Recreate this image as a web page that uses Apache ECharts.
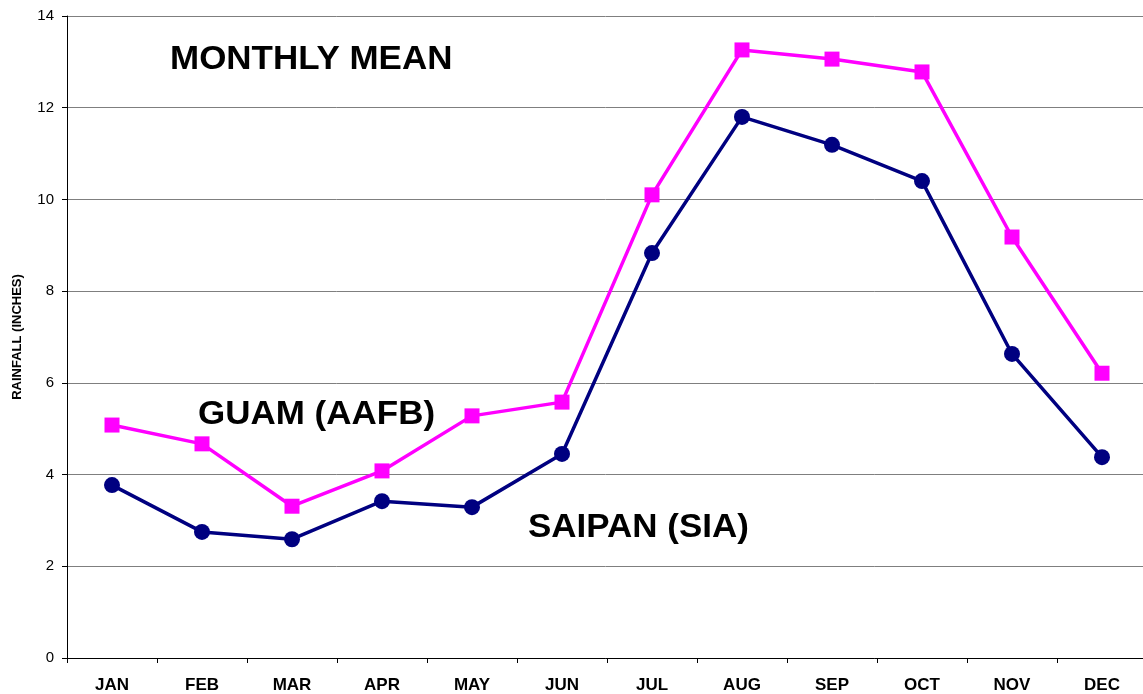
<!DOCTYPE html>
<html lang="en">
<head>
    <meta charset="UTF-8">
    <title>Monthly Mean Rainfall</title>
    <script src="https://cdn.jsdelivr.net/npm/echarts@6.0.0/dist/echarts.min.js"></script>
    <style>
        html, body { margin: 0; padding: 0; background: #fff; }
        #main { width: 1143px; height: 694px; }
    </style>
</head>
<body>
    <div id="main"></div>
    <script>
        var months = ['JAN', 'FEB', 'MAR', 'APR', 'MAY', 'JUN', 'JUL', 'AUG', 'SEP', 'OCT', 'NOV', 'DEC'];
        var guam = [5.08, 4.67, 3.31, 4.08, 5.28, 5.58, 10.10, 13.26, 13.06, 12.78, 9.18, 6.21];
        var saipan = [3.77, 2.75, 2.59, 3.42, 3.29, 4.45, 8.83, 11.80, 11.19, 10.40, 6.63, 4.38];

        var chartDom = document.getElementById('main');
        var myChart = echarts.init(chartDom);
        var font = 'Liberation Sans, Arial, sans-serif';
        var bigFont = 'bold 33px Liberation Sans, Arial, sans-serif';

        var option = {
            backgroundColor: '#fff',
            animation: false,
            grid: { left: 67, top: 16, width: 1080, height: 642, outerBoundsMode: 'none', containLabel: false },
            xAxis: {
                type: 'category',
                data: months,
                boundaryGap: true,
                axisLine: { lineStyle: { color: '#000', width: 1 } },
                axisTick: { show: true, length: 5, lineStyle: { color: '#000' } },
                axisLabel: { color: '#000', fontFamily: font, fontWeight: 'bold', fontSize: 17, margin: 19 }
            },
            yAxis: {
                type: 'value',
                min: 0, max: 14, interval: 2,
                name: 'RAINFALL (INCHES)',
                nameLocation: 'middle',
                nameGap: 43,
                nameRotate: 90,
                nameTextStyle: { color: '#000', fontFamily: font, fontWeight: 'bold', fontSize: 13 },
                axisLine: { show: true, lineStyle: { color: '#000', width: 1 } },
                axisTick: { show: true, length: 5, lineStyle: { color: '#000' } },
                axisLabel: { color: '#000', fontFamily: font, fontSize: 15, margin: 13 },
                splitLine: { show: true, lineStyle: { color: '#7f7f7f', width: 1 } }
            },
            graphic: [
                { type: 'text', x: 170, y: 43, scaleX: 1.06, style: { text: 'MONTHLY MEAN', font: bigFont, fill: '#000' } },
                { type: 'text', x: 198, y: 398, scaleX: 1.06, style: { text: 'GUAM (AAFB)', font: bigFont, fill: '#000' } },
                { type: 'text', x: 528, y: 511, scaleX: 1.06, style: { text: 'SAIPAN (SIA)', font: bigFont, fill: '#000' } }
            ],
            series: [
                {
                    name: 'GUAM (AAFB)',
                    type: 'line',
                    data: guam,
                    symbol: 'rect',
                    symbolSize: 15,
                    lineStyle: { color: '#ff00ff', width: 3.5 },
                    itemStyle: { color: '#ff00ff' }
                },
                {
                    name: 'SAIPAN (SIA)',
                    type: 'line',
                    data: saipan,
                    symbol: 'circle',
                    symbolSize: 16,
                    lineStyle: { color: '#000080', width: 3.5 },
                    itemStyle: { color: '#000080' }
                }
            ]
        };

        myChart.setOption(option);
    </script>
</body>
</html>
